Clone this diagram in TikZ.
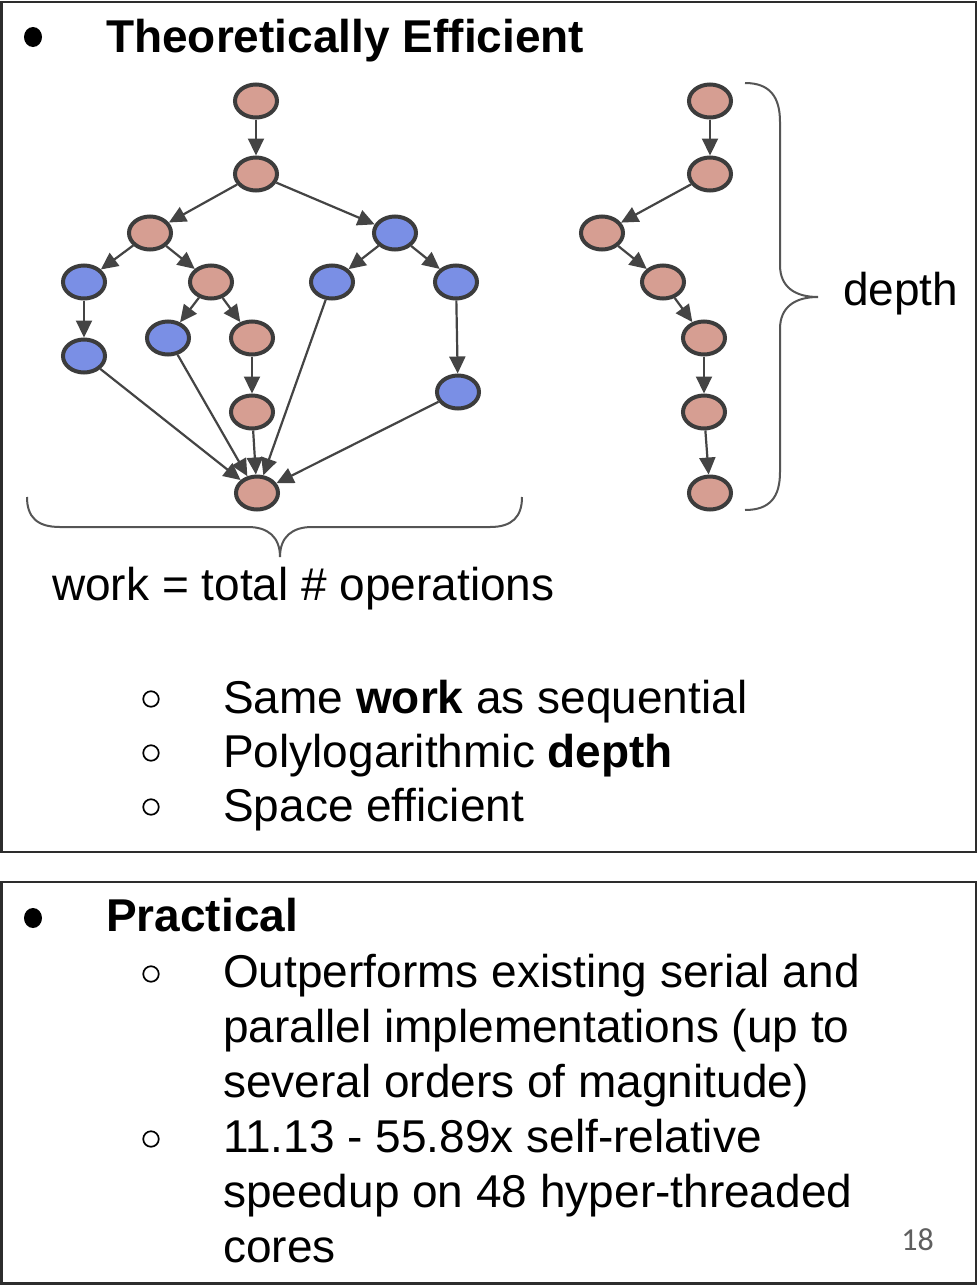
\documentclass[tikz,border=0pt]{standalone}
\usepackage{fontspec}
\setmainfont{Liberation Sans}
\newfontfamily\numfont{Carlito}
\usetikzlibrary{shapes.geometric,arrows.meta}
\definecolor{pinkfill}{RGB}{214,158,146}
\definecolor{bluefill}{RGB}{122,143,229}
\definecolor{nodeline}{RGB}{60,60,60}
\definecolor{arrowc}{RGB}{68,68,68}
\definecolor{bracec}{RGB}{85,85,85}
\definecolor{framec}{RGB}{45,45,45}
\definecolor{pagenum}{RGB}{95,95,95}
\begin{document}
\begin{tikzpicture}[x=1pt,y=-1pt,
  gnode/.style={ellipse, draw=nodeline, line width=4pt, minimum width=42pt, minimum height=33pt, inner sep=0pt},
  pk/.style={gnode, fill=pinkfill},
  bl/.style={gnode, fill=bluefill},
  arr/.style={-{Triangle[length=17pt,width=16pt]}, line width=2.2pt, draw=arrowc, color=arrowc},
  txt/.style={anchor=base west, inner sep=0pt, font=\fontsize{46}{55}\selectfont},
  bigdot/.style={ellipse, fill=black, minimum width=18pt, minimum height=20pt, inner sep=0pt},
  smallring/.style={circle, draw=black, line width=1.7pt, minimum size=15.5pt, inner sep=0pt},
  bracestyle/.style={draw=bracec, line width=2pt},
  frame/.style={draw=framec, line width=2.5pt}
]
\useasboundingbox (0,0) rectangle (979,1285);
\fill[white] (0,0) rectangle (979,1285);

% frames
\draw[frame] (1.5,2) rectangle (976,852);
\draw[frame] (1.5,882) rectangle (976,1283.5);

% title
\node[bigdot] (d1) at (33,37) {};
\node[txt] (t1) at (106,52) {\textbf{Theoretically Efficient}};

% left graph
\node[pk] (n1) at (256,101) {};
\node[pk] (n2) at (256,174) {};
\node[pk] (n3) at (150,233) {};
\node[bl] (n4) at (395,233) {};
\node[bl] (n5) at (84,282) {};
\node[pk] (n6) at (211,282) {};
\node[bl] (n7) at (332,282) {};
\node[bl] (n8) at (456,282) {};
\node[bl] (n9) at (84,356) {};
\node[bl] (n10) at (168,338) {};
\node[pk] (n11) at (252,338) {};
\node[pk] (n12) at (252,412) {};
\node[bl] (n13) at (458,392) {};
\node[pk] (n14) at (257,493) {};

\draw[arr] (n1) -- (n2);
\draw[arr] (n2) -- (n3);
\draw[arr] (n2) -- (n4);
\draw[arr] (n3) -- (n5);
\draw[arr] (n3) -- (n6);
\draw[arr] (n6) -- (n10);
\draw[arr] (n6) -- (n11);
\draw[arr] (n11) -- (n12);
\draw[arr] (n4) -- (n7);
\draw[arr] (n4) -- (n8);
\draw[arr] (n5) -- (n9);
\draw[arr] (n8) -- (n13);
\draw[arr] (n9) -- (n14);
\draw[arr] (n10) -- (n14);
\draw[arr] (n12) -- (n14);
\draw[arr] (n7) -- (n14);
\draw[arr] (n13) -- (n14);

% right chain
\node[pk] (m1) at (710,101) {};
\node[pk] (m2) at (710,174) {};
\node[pk] (m3) at (602,233) {};
\node[pk] (m4) at (663,282) {};
\node[pk] (m5) at (704,338) {};
\node[pk] (m6) at (704,412) {};
\node[pk] (m7) at (710,493) {};
\draw[arr] (m1) -- (m2);
\draw[arr] (m2) -- (m3);
\draw[arr] (m3) -- (m4);
\draw[arr] (m4) -- (m5);
\draw[arr] (m5) -- (m6);
\draw[arr] (m6) -- (m7);

% depth brace
\draw[bracestyle] (745,83) .. controls (770,83) and (780,97) .. (780,122)
  -- (780,265) .. controls (780,287) and (795,297) .. (818,297)
  .. controls (795,297) and (780,307) .. (780,329)
  -- (780,472) .. controls (780,497) and (770,510) .. (745,510);
\node[txt] (depth) at (843,305) {depth};

% work brace
\draw[bracestyle] (27,497) .. controls (27,517) and (37,527) .. (60,527)
  -- (248,527) .. controls (268,527) and (280,537) .. (280,557)
  .. controls (280,537) and (292,527) .. (312,527)
  -- (490,527) .. controls (512,527) and (522,517) .. (522,497);
\node[txt] (work) at (52,600) {work = total \# operations};

% sub bullets top
\node[smallring] (r1) at (151,699) {};
\node[txt] (s1) at (223,713) {Same \textbf{work} as sequential};
\node[smallring] (r2) at (151,753) {};
\node[txt] (s2) at (223,767) {Polylogarithmic \textbf{depth}};
\node[smallring] (r3) at (151,807) {};
\node[txt] (s3) at (223,821) {Space efficient};

% practical
\node[bigdot] (d2) at (33,918) {};
\node[txt] (t2) at (106,931) {\textbf{Practical}};

\node[smallring] (r4) at (151,974) {};
\node[txt] (p1) at (223,987) {Outperforms existing serial and};
\node[txt] (p2) at (223,1042) {parallel implementations (up to};
\node[txt] (p3) at (223,1097) {several orders of magnitude)};
\node[smallring] (r5) at (151,1139) {};
\node[txt] (p4) at (223,1152) {11.13 - 55.89x self-relative};
\node[txt] (p5) at (223,1207) {speedup on 48 hyper-threaded};
\node[txt] (p6) at (223,1262) {cores};

\node[anchor=base east, inner sep=0pt, text=pagenum, font=\numfont\fontsize{32}{38}\selectfont] (pg) at (934,1250) {18};
\end{tikzpicture}
\end{document}
